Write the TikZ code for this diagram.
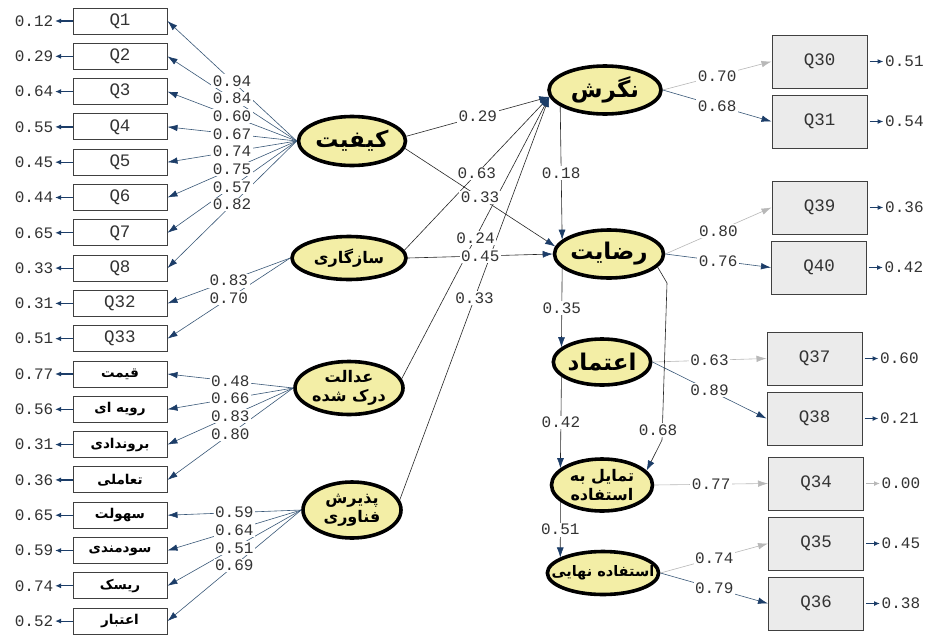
\documentclass[tikz,border=0pt]{standalone}
\usepackage{fontspec}
\usetikzlibrary{arrows.meta,shapes.geometric,calc}
\TeXXeTstate=1
\newfontfamily\fa[Script=Arabic]{DejaVu Sans}
\newfontfamily\mono{Liberation Mono}
\definecolor{lat}{HTML}{F3EEA6}
\definecolor{ln}{HTML}{3A5878}
\definecolor{ah}{HTML}{1C3D68}
\definecolor{gl}{HTML}{B8B8B8}
\definecolor{bx}{HTML}{EBEBEB}
\definecolor{tx}{HTML}{333333}
\tikzset{
  lv/.style={ellipse, draw=black, line width=3.6pt, fill=lat, inner sep=0pt, align=center,
    font=\fa\bfseries\fontsize{23}{25}\selectfont},
  lvs/.style={lv, font=\fa\bfseries\fontsize{16}{19}\selectfont},
  lbox/.style={rectangle, draw=black!75, line width=1pt, fill=white, minimum width=94pt,
    minimum height=26pt, inner sep=0pt, text=tx, font=\mono\fontsize{17.5}{17.5}\selectfont},
  fbox/.style={lbox, text=black, font=\fa\bfseries\fontsize{13.5}{14}\selectfont},
  rbox/.style={rectangle, draw=black!75, line width=1pt, fill=bx, minimum width=95pt,
    minimum height=53pt, inner sep=0pt, text=tx, font=\mono\fontsize{17.5}{17.5}\selectfont},
  num/.style={font=\mono\fontsize{16}{16}\selectfont, text=tx, inner sep=1.5pt},
  lbl/.style={num, fill=white},
  ld/.style={draw=ln, line width=0.6pt, -{Latex[length=10pt,width=6.5pt,color=ah]}},
  gld/.style={draw=gl, line width=0.6pt, -{Latex[length=10pt,width=6.5pt,color=gl]}},
  st/.style={draw=black!85, line width=0.6pt, -{Latex[length=10pt,width=7pt,color=ah]}},
  er/.style={draw=ah, line width=1.2pt, -{Latex[length=6pt,width=5pt]}},
  ger/.style={draw=gl, line width=1.2pt, -{Latex[length=6pt,width=5pt]}},
}
\begin{document}
\begin{tikzpicture}[x=1pt,y=-1pt]
\fill[white] (0,0) rectangle (929,635);
\useasboundingbox (0,0) rectangle (929,635);

% latent variables
\node[lv, minimum width=107pt, minimum height=49pt] (kf) at (352,141) {\beginR کیفیت\endR};
\node[lvs, minimum width=114pt, minimum height=43pt] (sz) at (349,258) {\beginR سازگاری\endR};
\node[lvs, minimum width=108pt, minimum height=53pt] (ad) at (349,388) {\beginR عدالت\endR\\\beginR درک شده\endR};
\node[lvs, minimum width=98pt, minimum height=56pt] (pz) at (352,510) {\beginR پذیرش\endR\\\beginR فناوری\endR};
\node[lv, minimum width=112pt, minimum height=48pt] (ng) at (605,90) {\beginR نگرش\endR};
\node[lv, minimum width=108pt, minimum height=48pt] (rz) at (609,254) {\beginR رضایت\endR};
\node[lv, minimum width=97pt, minimum height=46pt] (et) at (602,362) {\beginR اعتماد\endR};
\node[lvs, minimum width=101pt, minimum height=52pt] (tm) at (602,485) {\beginR تمایل به\endR\\\beginR استفاده\endR};
\node[lvs, minimum width=106pt, minimum height=43pt, inner xsep=-12pt, inner ysep=-4pt,
  font=\fa\bfseries\fontsize{14.5}{17}\selectfont] (es) at (603,573) {\beginR استفاده نهایی\endR};

% left indicators
\foreach \n/\t/\e/\y in {q1/Q1/0.12/21, q2/Q2/0.29/56.3, q3/Q3/0.64/91.6, q4/Q4/0.55/126.9,
  q5/Q5/0.45/162.2, q6/Q6/0.44/197.5, q7/Q7/0.65/232.8, q8/Q8/0.33/268.1,
  q32/Q32/0.31/303.4, q33/Q33/0.51/338.7}{
  \node[lbox] (\n) at (120,\y) {\t};
  \node[num, anchor=east] (e\n) at (55,\y) {\e};
  \draw[er] (\n.west) -- (e\n.east);
}
\node[fbox] (b1) at (120,374) {\beginR قیمت\endR};
\node[fbox] (b2) at (120,409.3) {\beginR رویه ای\endR};
\node[fbox] (b3) at (120,444.6) {\beginR بروندادی\endR};
\node[fbox] (b4) at (120,479.9) {\beginR تعاملی\endR};
\node[fbox] (b5) at (120,515.2) {\beginR سهولت\endR};
\node[fbox] (b6) at (120,550.5) {\beginR سودمندی\endR};
\node[fbox] (b7) at (120,585.8) {\beginR ریسک\endR};
\node[fbox] (b8) at (120,621.1) {\beginR اعتبار\endR};
\foreach \n/\e/\y in {b1/0.77/374, b2/0.56/409.3, b3/0.31/444.6, b4/0.36/479.9,
  b5/0.65/515.2, b6/0.59/550.5, b7/0.74/585.8, b8/0.52/621.1}{
  \node[num, anchor=east] (e\n) at (55,\y) {\e};
  \draw[er] (\n.west) -- (e\n.east);
}

% right indicators
\foreach \n/\t/\e/\x/\y/\s in {q30/Q30/0.51/819.5/61.5/er, q31/Q31/0.54/819.5/121.5/er,
  q39/Q39/0.36/819.5/207.5/er, q40/Q40/0.42/819/267.5/er,
  q37/Q37/0.60/814.5/358.5/er, q38/Q38/0.21/814.5/418.5/er,
  q34/Q34/0.00/816/483.5/ger, q35/Q35/0.45/816/543.5/er, q36/Q36/0.38/816/603.5/er}{
  \node[rbox] (\n) at (\x,\y) {\t};
  \node[num, anchor=west] (e\n) at ([xshift=16pt]\n.east) {\e};
  \draw[\s] ([xshift=2pt]\n.east) -- (e\n.west);
}

% measurement connectors
\def\leftlist{kf/q1/0.94, kf/q2/0.84, kf/q3/0.60, kf/q4/0.67, kf/q5/0.74, kf/q6/0.75,
  kf/q7/0.57, kf/q8/0.82, sz/q32/0.83, sz/q33/0.70, ad/b1/0.48, ad/b2/0.66, ad/b3/0.83,
  ad/b4/0.80, pz/b5/0.59, pz/b6/0.64, pz/b7/0.51, pz/b8/0.69}
\def\rightlist{ng/q30/0.70/gld, ng/q31/0.68/ld, rz/q39/0.80/gld, rz/q40/0.76/ld,
  et/q37/0.63/gld, et/q38/0.89/ld, tm/q34/0.77/gld, es/q35/0.74/gld, es/q36/0.79/ld}
\foreach \a/\b/\v in \leftlist { \draw[ld] (\a.west) -- (\b.east); }
\foreach \a/\b/\v/\s in \rightlist { \draw[\s] (\a.east) -- (\b.west); }

% structural connectors
\draw[st] (kf.5) -- (ng.187);
\draw[st] (kf.-8) -- (rz.172);
\draw[st] (sz.8) -- (ng.187);
\draw[st] (sz.east) -- (rz.west);
\draw[st] (ad.10) -- (ng.187);
\draw[st] (pz.12) -- (ng.187);
\draw[st] (ng.200) -- (rz.163);
\draw[st] (rz.197) -- (et.160);
\draw[st] (et.200) -- (tm.158);
\draw[st] (tm.202) -- (es.160);
\coordinate (c1) at (667,283);
\coordinate (c2) at (662,440);
\draw[st] (rz.-15) -- (c1) -- (c2) -- (tm.18);

% labels on top
\foreach \a/\b/\v in \leftlist { \path (\a.west) -- (\b.east) node[lbl, midway] {\v}; }
\foreach \a/\b/\v/\s in \rightlist { \path (\a.east) -- (\b.west) node[lbl, midway] {\v}; }
\path (kf.5) -- (ng.187) node[lbl, midway] {0.29};
\path (kf.-8) -- (rz.172) node[lbl, midway] {0.33};
\path (sz.8) -- (ng.187) node[lbl, midway] {0.63};
\path (sz.east) -- (rz.west) node[lbl, midway] {0.45};
\path (ad.10) -- (ng.187) node[lbl, midway] {0.24};
\path (pz.12) -- (ng.187) node[lbl, midway] {0.33};
\path (ng.200) -- (rz.163) node[lbl, midway] {0.18};
\path (rz.197) -- (et.160) node[lbl, midway] {0.35};
\path (et.200) -- (tm.158) node[lbl, midway] {0.42};
\path (tm.202) -- (es.160) node[lbl, midway] {0.51};
\node[lbl] (l68) at (658,430) {0.68};
\end{tikzpicture}
\end{document}
